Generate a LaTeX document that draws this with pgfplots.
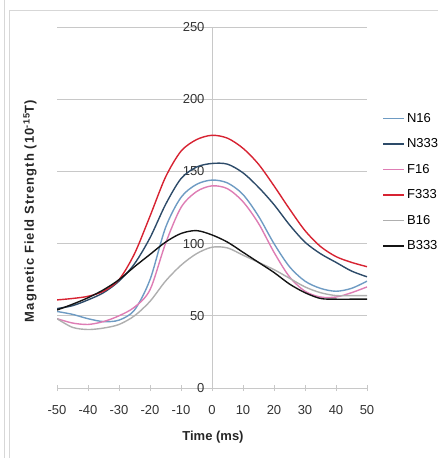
\documentclass[border=0pt]{standalone}
\usepackage{fontspec}
\setmainfont{Liberation Sans}
\usepackage{pgfplots}
\pgfplotsset{compat=1.18}

\definecolor{cN16}{RGB}{110,155,195}
\definecolor{cN333}{RGB}{45,75,105}
\definecolor{cF16}{RGB}{222,125,180}
\definecolor{cF333}{RGB}{215,35,50}
\definecolor{cB16}{RGB}{175,175,175}
\definecolor{cB333}{RGB}{20,20,20}
\definecolor{gridc}{RGB}{200,200,200}
\definecolor{framec}{RGB}{215,215,215}

\begin{document}
\begin{tikzpicture}
\path[use as bounding box] (0pt,0pt) rectangle (438pt,458pt);
% outer frame
\draw[framec, line width=0.8pt] (4pt,0pt) -- (4pt,458pt);
\draw[framec, line width=0.8pt] (9pt,0pt) -- (9pt,448pt) -- (438pt,448pt);

\begin{axis}[
  at={(57pt,70pt)}, anchor=south west,
  scale only axis, width=310pt, height=361pt,
  xmin=-50, xmax=50, ymin=0, ymax=250,
  axis x line=bottom, axis y line=middle,
  hide obscured x ticks=false, hide obscured y ticks=false,
  axis line style={gridc, line width=0.8pt, -},
  xtick={-50,-40,...,50}, ytick={0,50,...,250},
  tick align=center, major tick length=6pt,
  x tick style={gridc, line width=0.8pt},
  y tick style={draw=none},
  ymajorgrids, grid style={gridc, line width=0.8pt},
  /pgf/number format/assume math mode=true,
  ticklabel style={font=\fontsize{13}{15}\selectfont, text=black!80},
  xticklabel style={yshift=-11pt},
  yticklabel style={xshift=-1pt},
  legend style={at={(1.05,0.768)}, anchor=north west, draw=none, fill=none,
    font=\fontsize{13}{15}\selectfont, row sep=11pt, inner sep=0pt},
  legend cell align=left,
  legend image code/.code={\draw[#1, line width=1.4pt] (0pt,0pt) -- (21pt,0pt);},
  every axis plot/.append style={line width=1.4pt, smooth, no markers},
]
% N16
\addplot[color=cN16] coordinates {(-50,53) (-45,51) (-40,48) (-35,46) (-30,47) (-25,54)
 (-20,75) (-15,111) (-10,132) (-5,141) (0,144) (5,142) (10,134) (15,119) (20,100)
 (25,84) (30,74) (35,69) (40,67) (45,69) (50,74)};
% N333
\addplot[color=cN333] coordinates {(-50,55) (-45,57) (-40,61) (-35,66) (-30,74) (-25,86)
 (-20,104) (-15,127) (-10,145) (-5,153) (0,155.5) (5,155) (10,149) (15,139) (20,127)
 (25,113) (30,101) (35,93) (40,87) (45,81) (50,77)};
% F16
\addplot[color=cF16] coordinates {(-50,48) (-45,45) (-40,44) (-35,46) (-30,50) (-25,56)
 (-20,68) (-15,100) (-10,125) (-5,136) (0,140) (5,138) (10,129) (15,114) (20,94)
 (25,77) (30,67) (35,63) (40,63) (45,66) (50,70)};
% F333
\addplot[color=cF333] coordinates {(-50,61) (-45,62) (-40,63.5) (-35,67) (-30,75) (-25,93)
 (-20,119) (-15,146) (-10,164) (-5,172) (0,175) (5,173) (10,166) (15,155) (20,140)
 (25,124) (30,109) (35,98) (40,91) (45,87) (50,84)};
% B16
\addplot[color=cB16] coordinates {(-50,48) (-45,42) (-40,40.5) (-35,41.5) (-30,44) (-25,50)
 (-20,60) (-15,74) (-10,85) (-5,93) (0,97.5) (5,97) (10,92) (15,87) (20,82)
 (25,76) (30,70) (35,66) (40,64) (45,64) (50,64)};
% B333
\addplot[color=cB333] coordinates {(-50,54) (-45,58) (-40,62.5) (-35,68) (-30,75) (-25,84)
 (-20,92.5) (-15,101) (-10,107) (-5,109) (0,106) (5,101) (10,94) (15,87) (20,80)
 (25,72) (30,66) (35,62) (40,61.5) (45,61.5) (50,61.5)};
\legend{N16,N333,F16,F333,B16,B333}
\end{axis}

\node[font=\bfseries\fontsize{13}{15}\selectfont, text=black!85] at (213pt,21pt) {Time (ms)};
\node[font=\bfseries\fontsize{13}{15}\selectfont\addfontfeatures{LetterSpace=8}, text=black!85, rotate=90] at (30pt,247pt)
  {Magnetic Field Strength (10\textsuperscript{-15}T)};
\end{tikzpicture}
\end{document}
